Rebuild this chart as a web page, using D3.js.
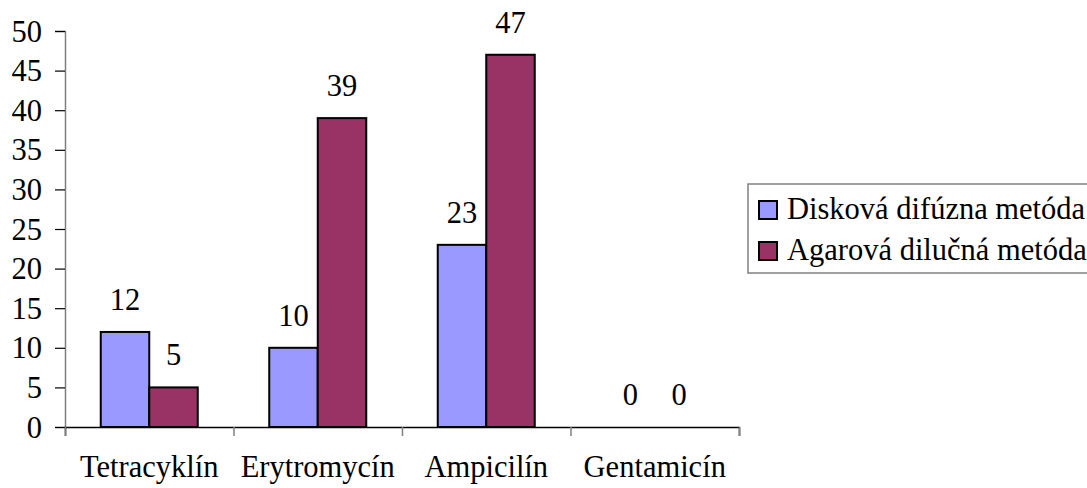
<!DOCTYPE html>
<html>
<head>
<meta charset="utf-8">
<script src="https://cdn.jsdelivr.net/npm/d3@7"></script>
</head>
<body style="margin:0">
<svg id="chart" width="1087" height="488" style="display:block; background:#fff"></svg>
<script>
// Antibiotics tested and the number of resistant isolates by each method
const categories = ["Tetracyklín", "Erytromycín", "Ampicilín", "Gentamicín"];
const seriesNames = ["Disková difúzna metóda", "Agarová dilučná metóda"];
const diskValues = [12, 10, 23, 0];
const agarValues = [5, 39, 47, 0];
const yTicks = [0, 5, 10, 15, 20, 25, 30, 35, 40, 45, 50];
const seriesColors = ["#9999FF", "#993366"];

const svg = d3.select("#chart");
const labelSize = "30.5px";
const labelFont = "Liberation Serif";

const plot = { left: 65, right: 739, top: 31, bottom: 427 };

const x0 = d3.scaleBand().domain(categories).range([plot.left, plot.right]).paddingInner(0).paddingOuter(0);
const x1 = d3.scaleBand().domain(seriesNames).range([0, x0.bandwidth()]).paddingInner(0).paddingOuter(0.737);
const y = d3.scaleLinear().domain([0, 50]).range([plot.bottom, plot.top]);

const bars = [];
categories.forEach((c, i) => {
  bars.push({ category: c, series: seriesNames[0], value: diskValues[i], color: seriesColors[0] });
  bars.push({ category: c, series: seriesNames[1], value: agarValues[i], color: seriesColors[1] });
});
const barX = d => x0(d.category) + x1(d.series);

// Every label is a direct child of the svg
function addText(data, x, yPos, anchor, text) {
  return svg.selectAll(null).data(data).enter().append("text")
    .attr("x", x).attr("y", yPos)
    .attr("text-anchor", anchor)
    .style("font-family", labelFont)
    .style("font-size", labelSize)
    .style("fill", "#000")
    .text(text);
}

// Y axis (line and ticks)
const yAxis = d3.axisLeft(y).tickValues(yTicks).tickSize(10).tickFormat("");
const gy = svg.append("g").attr("transform", `translate(${plot.left},0)`).call(yAxis);
gy.select(".domain").attr("stroke", "#808080").attr("stroke-width", 1.5);
gy.selectAll(".tick line").attr("stroke", "#000").attr("stroke-width", 1.2);

// Y tick labels
addText(yTicks, plot.left - 23, d => y(d), "end", d => d).attr("dy", "0.35em");

// X axis: ticks mark the category boundaries
const xb = d3.scaleLinear().domain([0, categories.length]).range([plot.left, plot.right]);
const xAxis = d3.axisBottom(xb).tickValues(d3.range(categories.length + 1)).tickSize(9).tickFormat("");
const gx = svg.append("g").attr("transform", `translate(0,${plot.bottom})`).call(xAxis);
gx.select(".domain").attr("stroke", "#000").attr("stroke-width", 1.5);
gx.selectAll(".tick line").attr("stroke", "#808080").attr("stroke-width", 1.5);

// Category labels
addText(categories, d => x0(d) + x0.bandwidth() / 2, 477, "middle", d => d);

// Bars
svg.append("g").selectAll("rect").data(bars.filter(b => b.value > 0)).join("rect")
  .attr("x", barX)
  .attr("y", d => y(d.value))
  .attr("width", x1.bandwidth())
  .attr("height", d => y(0) - y(d.value))
  .attr("fill", d => d.color)
  .attr("stroke", "#000")
  .attr("stroke-width", 2);

// Value labels
addText(bars, d => barX(d) + x1.bandwidth() / 2, d => y(d.value) - 22, "middle", d => d.value);

// Legend
const legendBox = { x: 748, y: 184, h: 89, rowBase: [35, 76] };
svg.append("rect")
  .attr("x", legendBox.x).attr("y", legendBox.y).attr("width", 360).attr("height", legendBox.h)
  .attr("fill", "none").attr("stroke", "#808080").attr("stroke-width", 1.5);
svg.selectAll(null).data(seriesNames).enter().append("rect")
  .attr("x", legendBox.x + 11)
  .attr("y", (d, i) => legendBox.y + legendBox.rowBase[i] - 18)
  .attr("width", 18).attr("height", 18)
  .attr("fill", (d, i) => seriesColors[i])
  .attr("stroke", "#000").attr("stroke-width", 2);
addText(seriesNames, legendBox.x + 39, (d, i) => legendBox.y + legendBox.rowBase[i], "start", d => d);
</script>
</body>
</html>
